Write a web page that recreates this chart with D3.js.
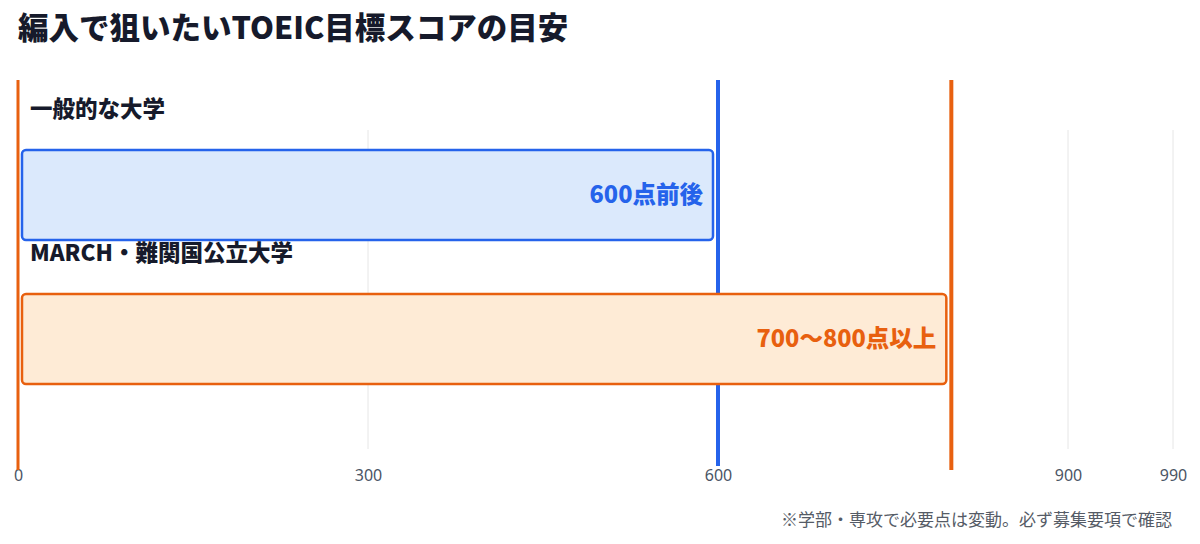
<!DOCTYPE html>
<meta charset="utf-8">
<script src="https://d3js.org/d3.v7.min.js"></script>
<style>
  body { margin: 0; background: #fff; }
  text { font-family: "Noto Sans CJK JP", "Noto Sans", sans-serif; }
</style>
<div id="chart"></div>
<script>

// data
var groups = ["一般的な大学", "MARCH・難関国公立大学"];
var scores = [600, 800];
var valueLabels = ["600点前後", "700〜800点以上"];
var tickValues = [0, 300, 600, 900, 990];
var markerLines = [0, 600, 800];

var W = 1200, H = 544;
var strokeCol = ["#2563eb", "#e8600f"];
var fillCol = ["#dbe9fc", "#feebd6"];
var markerCol = ["#e8600f", "#2563eb", "#e8600f"];

var svg = d3.select("#chart").append("svg")
  .attr("width", W).attr("height", H);

// title
svg.append("text")
  .attr("x", 18).attr("y", 39)
  .attr("font-size", 30.5).attr("font-weight", 900)
  .attr("fill", "#161a2b")
  .text("編入で狙いたいTOEIC目標スコアの目安");

var x = d3.scaleLinear().domain([0, 990]).range([18, 1173]);

// band positions for the bars
var y = d3.scaleBand().domain(groups).range([150, 384]).paddingInner(0.375);

// gridlines
svg.append("g")
  .selectAll("line")
  .data(tickValues)
  .enter()
  .append("line")
    .attr("x1", d => x(d)).attr("x2", d => x(d))
    .attr("y1", 130).attr("y2", 449)
    .attr("stroke", "#e6e6e6").attr("stroke-width", 1);

// axis tick labels
var axis = svg.append("g")
  .attr("transform", "translate(0,467)")
  .call(d3.axisBottom(x).tickValues(tickValues).tickSize(0).tickFormat(d3.format("d")));
axis.select(".domain").remove();
axis.selectAll("text")
  .attr("font-size", 16)
  .attr("fill", "#4b5565")
  .style("font-family", "'Noto Sans', sans-serif");

// marker lines at 0 / 600 / 800 (behind the bars)
svg.append("g")
  .selectAll("line")
  .data(markerLines)
  .enter()
  .append("line")
    .attr("x1", d => x(d)).attr("x2", d => x(d))
    .attr("y1", 80).attr("y2", (d, i) => i == 1 ? 466 : 470)
    .attr("stroke", (d, i) => markerCol[i])
    .attr("stroke-width", (d, i) => i == 0 ? 3 : 4);

// bars
svg.append("g")
  .selectAll("rect")
  .data(groups)
  .enter()
  .append("rect")
    .attr("x", x(0) + 4)
    .attr("y", d => y(d))
    .attr("width", (d, i) => x(scores[i]) - x(0) - 9)
    .attr("height", y.bandwidth())
    .attr("rx", 4)
    .attr("fill", (d, i) => fillCol[i])
    .attr("stroke", (d, i) => strokeCol[i])
    .attr("stroke-width", 2.5);

// group labels
svg.append("g")
  .selectAll("text")
  .data(groups)
  .enter()
  .append("text")
    .attr("x", 30)
    .attr("y", d => y(d) - 41)
    .attr("dy", "0.35em")
    .attr("font-size", 22.5).attr("font-weight", 900)
    .attr("fill", "#161a2b")
    .text(d => d);

// value labels inside bars
svg.append("g")
  .selectAll("text")
  .data(groups)
  .enter()
  .append("text")
    .attr("x", (d, i) => x(scores[i]) - 15)
    .attr("y", d => y(d) + y.bandwidth() / 2)
    .attr("dy", "0.35em")
    .attr("text-anchor", "end")
    .attr("font-size", 23.5).attr("font-weight", 900)
    .attr("fill", (d, i) => strokeCol[i])
    .text((d, i) => valueLabels[i]);

// footnote
svg.append("text")
  .attr("x", 1172).attr("y", 520)
  .attr("dy", "0.35em")
  .attr("text-anchor", "end")
  .attr("font-size", 17)
  .attr("fill", "#555b66")
  .text("※学部・専攻で必要点は変動。必ず募集要項で確認");

</script>
